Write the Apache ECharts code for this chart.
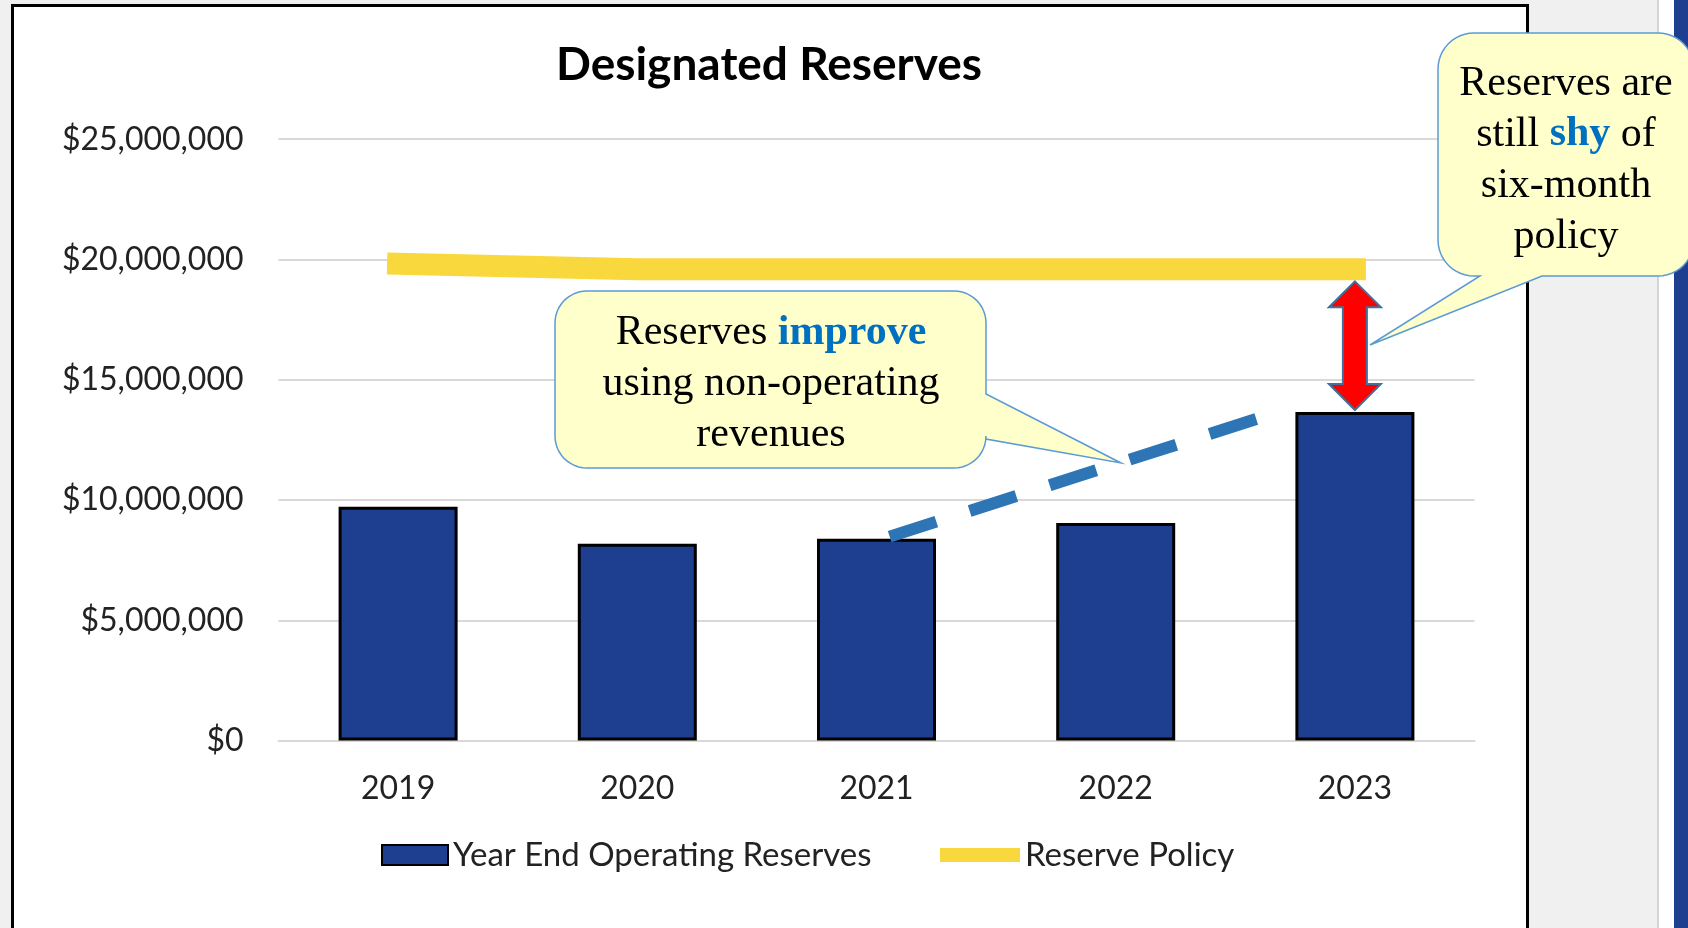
<!DOCTYPE html>
<html>
<head>
<meta charset="utf-8">
<script src="https://cdn.jsdelivr.net/npm/echarts/dist/echarts.min.js"></script>
<style>
html,body{margin:0;padding:0;width:1688px;height:928px;overflow:hidden;background:#f0f0f0;}
#frame{position:absolute;left:11px;top:4px;width:1512px;height:940px;background:#fff;border:3px solid #000;}
#sep{position:absolute;left:1657px;top:0;width:2px;height:928px;background:#d4d4d4;}
#white{position:absolute;left:1659px;top:0;width:15px;height:928px;background:#fff;}
#blue{position:absolute;left:1674px;top:0;width:14px;height:928px;background:#1e3f8f;}
#chart{position:absolute;left:0;top:0;width:1688px;height:928px;}
</style>
</head>
<body>
<div id="frame"></div>
<div id="sep"></div>
<div id="white"></div>
<div id="blue"></div>
<div id="chart"></div>
<script>
// ---- data ----
const categories = ['2019', '2020', '2021', '2022', '2023'];
const operatingReserves = [9720000, 8180000, 8390000, 9050000, 13660000];
const reservePolicy = [19820000, 19590000, 19590000, 19590000, 19590000];
const yTickValues = [0, 5000000, 10000000, 15000000, 20000000, 25000000];
const seriesNames = ['Year End Operating Reserves', 'Reserve Policy'];
const titleText = 'Designated Reserves';
// annotation anchors in data space: [category index (fractional), value]
const trendFrom = [2.055, 8480000];
const trendTo = [3.61, 13440000];

const sansFont = 'Lato, "Open Sans", sans-serif';
const serifFont = '"Liberation Serif", "DejaVu Serif", serif';

const chart = echarts.init(document.getElementById('chart'), null, {renderer: 'canvas'});

const option = {
  animation: false,
  backgroundColor: 'transparent',
  title: {
    text: titleText,
    left: 769,
    top: 42,
    textAlign: 'center',
    padding: 0,
    textStyle: {fontFamily: sansFont, fontWeight: 'bold', fontSize: 46, color: '#000'}
  },
  grid: {left: 278.5, right: 213.5, top: 139.2, bottom: 187.4, containLabel: false},
  xAxis: {
    type: 'category',
    data: categories,
    axisLine: {show: true, lineStyle: {color: '#d9d9d9', width: 2}},
    axisTick: {show: false},
    axisLabel: {fontFamily: sansFont, fontSize: 32, color: '#222', margin: 32}
  },
  yAxis: {
    type: 'value',
    min: yTickValues[0],
    max: yTickValues[yTickValues.length - 1],
    interval: yTickValues[1] - yTickValues[0],
    axisLine: {show: false},
    axisTick: {show: false},
    axisLabel: {
      fontFamily: sansFont, fontSize: 32, color: '#222', margin: 35,
      formatter: v => '$' + Number(v).toLocaleString('en-US')
    },
    splitLine: {lineStyle: {color: '#d9d9d9', width: 2}}
  },
  legend: [
    {
      data: [{name: seriesNames[0], icon: 'rect'}],
      left: 381, top: 838, padding: 0,
      itemWidth: 66, itemHeight: 20,
      textStyle: {fontFamily: sansFont, fontSize: 33, color: '#222', lineHeight: 34}
    },
    {
      data: [{name: seriesNames[1], icon: 'rect', itemStyle: {color: '#f9d83e', borderWidth: 0}}],
      left: 940, top: 838, padding: 0,
      itemWidth: 80, itemHeight: 14,
      textStyle: {fontFamily: sansFont, fontSize: 33, color: '#222', lineHeight: 34}
    }
  ],
  series: [
    {
      name: seriesNames[0],
      type: 'bar',
      data: operatingReserves,
      barWidth: 119,
      itemStyle: {color: '#1e3f8f', borderColor: '#000', borderWidth: 3}
    },
    {
      name: seriesNames[1],
      type: 'line',
      data: reservePolicy,
      symbol: 'none',
      z: 3,
      lineStyle: {color: '#f9d83e', width: 22, cap: 'square', join: 'miter'}
    }
  ]
};
chart.setOption(option);

// ---- annotations positioned through the chart's own scales ----
const p0 = chart.convertToPixel({gridIndex: 0}, [0, 0]);
const p1 = chart.convertToPixel({gridIndex: 0}, [1, 0]);
const band = p1[0] - p0[0];
const xOf = i => p0[0] + i * band;
const yOf = v => chart.convertToPixel({yAxisIndex: 0}, v);

// dashed trend line
const tx1 = xOf(trendFrom[0]), ty1 = yOf(trendFrom[1]);
const tx2 = xOf(trendTo[0]), ty2 = yOf(trendTo[1]);

// red double arrow between policy line and last bar
const last = categories.length - 1;
const cx = xOf(last);
const topY = yOf(reservePolicy[last]) + 12;
const botY = yOf(operatingReserves[last]) - 2;
const hl = 26, hw = 26, sw = 12;
const arrowPts = [
  [cx, topY], [cx + hw, topY + hl], [cx + sw, topY + hl], [cx + sw, botY - hl],
  [cx + hw, botY - hl], [cx, botY], [cx - hw, botY - hl], [cx - sw, botY - hl],
  [cx - sw, topY + hl], [cx - hw, topY + hl]
];

function arc(pts, cxp, cyp, r, a0, a1) {
  const steps = 12;
  for (let k = 0; k <= steps; k++) {
    const a = (a0 + (a1 - a0) * k / steps) * Math.PI / 180;
    pts.push([cxp + r * Math.cos(a), cyp + r * Math.sin(a)]);
  }
}
// side: 'right' -> pointer on right edge (a,b are y values); 'bottom' -> pointer on bottom edge (a,b are x values, a > b)
function callout(x0, y0, x1, y1, r, side, a, tip, b) {
  const pts = [];
  arc(pts, x1 - r, y0 + r, r, -90, 0);
  if (side === 'right') { pts.push([x1, a], tip, [x1, b]); }
  arc(pts, x1 - r, y1 - r, r, 0, 90);
  if (side === 'bottom') { pts.push([a, y1], tip, [b, y1]); }
  arc(pts, x0 + r, y1 - r, r, 90, 180);
  arc(pts, x0 + r, y0 + r, r, 180, 270);
  return pts;
}

const richStyles = {
  n: {fontFamily: serifFont, fontSize: 42, lineHeight: 51, fill: '#000', color: '#000'},
  b: {fontFamily: serifFont, fontSize: 42, lineHeight: 51, fontWeight: 'bold', fill: '#0070c0', color: '#0070c0'}
};

chart.setOption({
  graphic: [
    {
      type: 'line', z: 50, silent: true,
      shape: {x1: tx1, y1: ty1, x2: tx2, y2: ty2},
      style: {stroke: '#2e75b6', lineWidth: 12, lineDash: [49, 35], lineCap: 'butt'}
    },
    {
      type: 'polygon', z: 60, silent: true,
      shape: {points: arrowPts},
      style: {fill: '#ff0000', stroke: '#41719c', lineWidth: 2}
    },
    {
      type: 'polygon', z: 70, silent: true,
      shape: {points: callout(555, 291, 986, 468, 32, 'right', 394, [1121, 463], 439)},
      style: {fill: '#ffffcc', stroke: '#5b9bd5', lineWidth: 1.5}
    },
    {
      type: 'text', z: 71, silent: true,
      x: 771, y: 384,
      style: {
        text: '{n|Reserves }{b|improve}\n{n|using non-operating}\n{n|revenues}',
        align: 'center', verticalAlign: 'middle', rich: richStyles
      }
    },
    {
      type: 'polygon', z: 70, silent: true,
      shape: {points: callout(1438, 33, 1694, 276, 36, 'bottom', 1542, [1370, 345], 1480)},
      style: {fill: '#ffffcc', stroke: '#5b9bd5', lineWidth: 1.5}
    },
    {
      type: 'text', z: 71, silent: true,
      x: 1566, y: 160,
      style: {
        text: '{n|Reserves are}\n{n|still }{b|shy}{n| of}\n{n|six-month}\n{n|policy}',
        align: 'center', verticalAlign: 'middle', rich: richStyles
      }
    }
  ]
});
</script>
</body>
</html>
